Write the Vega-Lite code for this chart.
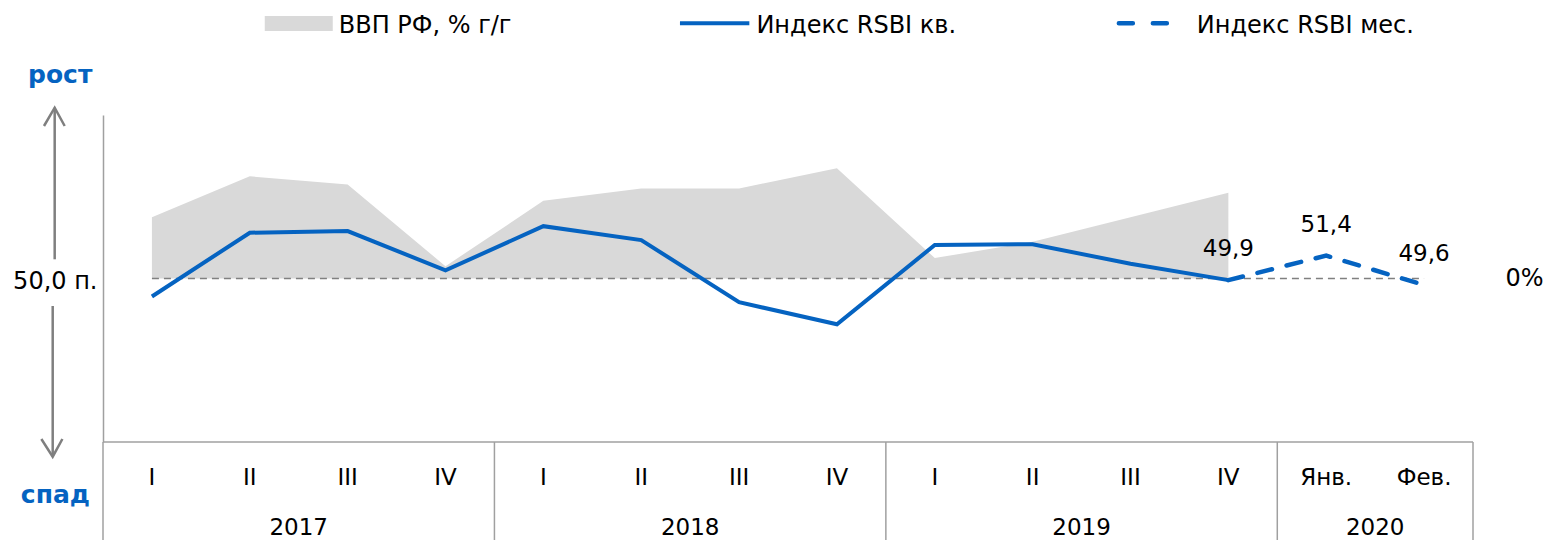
{
  "$schema": "https://vega.github.io/schema/vega-lite/v6.json",
  "width": 1370,
  "height": 327,
  "autosize": {"type": "none"},
  "padding": {"left": 103, "top": 115, "right": 75, "bottom": 98},
  "config": {"view": {"stroke": null}, "font": "DejaVu Sans"},
  "datasets": {
    "periods": [
      {"i": 0, "period": "I", "year": "2017", "rsbi": 48.9, "gdp": 1.5},
      {"i": 1, "period": "II", "year": "2017", "rsbi": 52.8, "gdp": 2.5},
      {"i": 2, "period": "III", "year": "2017", "rsbi": 52.9, "gdp": 2.3},
      {"i": 3, "period": "IV", "year": "2017", "rsbi": 50.5, "gdp": 0.3},
      {"i": 4, "period": "I", "year": "2018", "rsbi": 53.2, "gdp": 1.9},
      {"i": 5, "period": "II", "year": "2018", "rsbi": 52.35, "gdp": 2.2},
      {"i": 6, "period": "III", "year": "2018", "rsbi": 48.55, "gdp": 2.2},
      {"i": 7, "period": "IV", "year": "2018", "rsbi": 47.2, "gdp": 2.7},
      {"i": 8, "period": "I", "year": "2019", "rsbi": 52.05, "gdp": 0.5},
      {"i": 9, "period": "II", "year": "2019", "rsbi": 52.1, "gdp": 0.9},
      {"i": 10, "period": "III", "year": "2019", "rsbi": 50.9, "gdp": 1.5},
      {"i": 11, "period": "IV", "year": "2019", "rsbi": 49.9, "gdp": 2.1},
      {"i": 12, "period": "Янв.", "year": "2020", "rsbi": 51.4},
      {"i": 13, "period": "Фев.", "year": "2020", "rsbi": 49.6}
    ],
    "labels": [
      {"i": 11, "rsbi": 49.9, "lbl": "49,9"},
      {"i": 12, "rsbi": 51.4, "lbl": "51,4"},
      {"i": 13, "rsbi": 49.6, "lbl": "49,6"}
    ],
    "years": [
      {"pos": 1.5, "year": "2017"},
      {"pos": 5.5, "year": "2018"},
      {"pos": 9.5, "year": "2019"},
      {"pos": 12.5, "year": "2020"}
    ],
    "grid": [
      {"x1": -0.5, "x2": 13.5, "y1": 40, "y2": 40},
      {"x1": -0.5, "x2": -0.5, "y1": 40, "y2": 33.9},
      {"x1": 3.5, "x2": 3.5, "y1": 40, "y2": 33.9},
      {"x1": 7.5, "x2": 7.5, "y1": 40, "y2": 33.9},
      {"x1": 11.5, "x2": 11.5, "y1": 40, "y2": 33.9},
      {"x1": 13.5, "x2": 13.5, "y1": 40, "y2": 33.9}
    ],
    "baseline": [{"a": 0, "b": 13, "v": 50}],
    "arrows": [
      {"grp": "up_shaft", "ord": 1, "x": -0.9937, "y": 60.446},
      {"grp": "up_shaft", "ord": 2, "x": -0.9937, "y": 51.174},
      {"grp": "up_head", "ord": 1, "x": -1.103, "y": 59.327},
      {"grp": "up_head", "ord": 2, "x": -0.9937, "y": 60.446},
      {"grp": "up_head", "ord": 3, "x": -0.8915, "y": 59.327},
      {"grp": "dn_shaft", "ord": 1, "x": -1.014, "y": 48.318},
      {"grp": "dn_shaft", "ord": 2, "x": -1.014, "y": 39.101},
      {"grp": "dn_head", "ord": 1, "x": -1.13, "y": 40.183},
      {"grp": "dn_head", "ord": 2, "x": -1.014, "y": 39.101},
      {"grp": "dn_head", "ord": 3, "x": -0.915, "y": 40.183}
    ],
    "directions": [
      {"x": -0.937, "y": 61.96, "txt": "рост"},
      {"x": -0.9865, "y": 36.29, "txt": "спад"}
    ],
    "legendRect": [{"x1": 1.153, "x2": 1.848, "y1": 65.14, "y2": 66.06}],
    "legendLines": [
      {"kind": "solid", "x1": 5.396, "x2": 6.105, "y": 65.61},
      {"kind": "dashed", "x1": 9.881, "x2": 10.413, "y": 65.61}
    ],
    "legendText": [
      {"x": 1.909, "y": 64.985, "label": "ВВП РФ, % г/г"},
      {"x": 6.177, "y": 64.985, "label": "Индекс RSBI кв."},
      {"x": 10.678, "y": 64.985, "label": "Индекс RSBI мес."}
    ]
  },
  "layer": [
    {
      "data": {"name": "periods"},
      "transform": [{"filter": "isValid(datum.gdp)"}],
      "mark": {"type": "area", "color": "#D9D9D9", "opacity": 1},
      "encoding": {
        "x": {"field": "i", "type": "quantitative", "scale": {"domain": [-0.5, 13.5], "nice": false, "zero": false}, "axis": null},
        "y": {
          "field": "gdp", "type": "quantitative",
          "scale": {"domain": [-4, 4], "nice": false, "zero": false},
          "axis": {"orient": "right", "values": [0], "labelExpr": "'0%'", "ticks": false, "grid": false, "domain": false, "labelPadding": 32, "labelFontSize": 24, "labelFont": "DejaVu Sans", "labelColor": "#000000", "title": null}
        },
        "y2": {"datum": 0}
      }
    },
    {
      "data": {"name": "baseline"},
      "mark": {"type": "rule", "color": "#808080", "strokeDash": [7, 5], "strokeWidth": 1.5},
      "encoding": {
        "x": {"field": "a", "type": "quantitative", "scale": {"domain": [-0.5, 13.5], "nice": false, "zero": false}, "axis": null},
        "x2": {"field": "b"},
        "y": {
          "field": "v", "type": "quantitative",
          "scale": {"domain": [40, 60], "nice": false, "zero": false},
          "axis": {"orient": "left", "values": [50], "labelExpr": "'50,0 п.'", "ticks": false, "grid": false, "domain": true, "domainColor": "#A0A0A0", "domainWidth": 1.5, "labelPadding": 6, "labelOffset": 3, "labelFontSize": 24, "labelFont": "DejaVu Sans", "labelColor": "#000000", "title": null}
        }
      }
    },
    {
      "data": {"name": "periods"},
      "transform": [{"filter": "datum.i <= 11"}],
      "mark": {"type": "line", "color": "#0563C1", "strokeWidth": 4},
      "encoding": {
        "x": {"field": "i", "type": "quantitative", "scale": {"domain": [-0.5, 13.5], "nice": false, "zero": false}, "axis": null},
        "y": {"field": "rsbi", "type": "quantitative", "scale": {"domain": [40, 60], "nice": false, "zero": false}, "axis": null}
      }
    },
    {
      "data": {"name": "periods"},
      "transform": [{"filter": "datum.i >= 11"}],
      "mark": {"type": "line", "color": "#0563C1", "strokeWidth": 4.5, "strokeDash": [15, 15], "strokeCap": "round"},
      "encoding": {
        "x": {"field": "i", "type": "quantitative", "scale": {"domain": [-0.5, 13.5], "nice": false, "zero": false}, "axis": null},
        "y": {"field": "rsbi", "type": "quantitative", "scale": {"domain": [40, 60], "nice": false, "zero": false}, "axis": null}
      }
    },
    {
      "data": {"name": "labels"},
      "mark": {"type": "text", "fontSize": 23, "font": "DejaVu Sans", "color": "#000000", "align": "center", "baseline": "alphabetic", "dy": -24},
      "encoding": {
        "x": {"field": "i", "type": "quantitative", "scale": {"domain": [-0.5, 13.5], "nice": false, "zero": false}, "axis": null},
        "y": {"field": "rsbi", "type": "quantitative", "scale": {"domain": [40, 60], "nice": false, "zero": false}, "axis": null},
        "text": {"field": "lbl"}
      }
    },
    {
      "data": {"name": "grid"},
      "mark": {"type": "rule", "color": "#A0A0A0", "strokeWidth": 1.5},
      "encoding": {
        "x": {"field": "x1", "type": "quantitative", "scale": {"domain": [-0.5, 13.5], "nice": false, "zero": false}, "axis": null},
        "x2": {"field": "x2"},
        "y": {"field": "y1", "type": "quantitative", "scale": {"domain": [40, 60], "nice": false, "zero": false}, "axis": null},
        "y2": {"field": "y2"}
      }
    },
    {
      "data": {"name": "periods"},
      "mark": {"type": "text", "fontSize": 23, "font": "DejaVu Sans", "color": "#000000", "align": "center", "baseline": "alphabetic"},
      "encoding": {
        "x": {"field": "i", "type": "quantitative", "scale": {"domain": [-0.5, 13.5], "nice": false, "zero": false}, "axis": null},
        "y": {"datum": 37.37, "type": "quantitative", "scale": {"domain": [40, 60], "nice": false, "zero": false}, "axis": null},
        "text": {"field": "period"}
      }
    },
    {
      "data": {"name": "years"},
      "mark": {"type": "text", "fontSize": 23, "font": "DejaVu Sans", "color": "#000000", "align": "center", "baseline": "alphabetic"},
      "encoding": {
        "x": {"field": "pos", "type": "quantitative", "scale": {"domain": [-0.5, 13.5], "nice": false, "zero": false}, "axis": null},
        "y": {"datum": 34.31, "type": "quantitative", "scale": {"domain": [40, 60], "nice": false, "zero": false}, "axis": null},
        "text": {"field": "year"}
      }
    },
    {
      "data": {"name": "arrows"},
      "mark": {"type": "line", "color": "#7F7F7F", "strokeWidth": 2.5},
      "encoding": {
        "x": {"field": "x", "type": "quantitative", "scale": {"domain": [-0.5, 13.5], "nice": false, "zero": false}, "axis": null},
        "y": {"field": "y", "type": "quantitative", "scale": {"domain": [40, 60], "nice": false, "zero": false}, "axis": null},
        "detail": {"field": "grp"},
        "order": {"field": "ord"}
      }
    },
    {
      "data": {"name": "directions"},
      "mark": {"type": "text", "fontSize": 25, "font": "DejaVu Sans", "fontWeight": "bold", "color": "#0563C1", "align": "center", "baseline": "alphabetic"},
      "encoding": {
        "x": {"field": "x", "type": "quantitative", "scale": {"domain": [-0.5, 13.5], "nice": false, "zero": false}, "axis": null},
        "y": {"field": "y", "type": "quantitative", "scale": {"domain": [40, 60], "nice": false, "zero": false}, "axis": null},
        "text": {"field": "txt"}
      }
    },
    {
      "data": {"name": "legendRect"},
      "mark": {"type": "rect", "color": "#D9D9D9"},
      "encoding": {
        "x": {"field": "x1", "type": "quantitative", "scale": {"domain": [-0.5, 13.5], "nice": false, "zero": false}, "axis": null},
        "x2": {"field": "x2"},
        "y": {"field": "y1", "type": "quantitative", "scale": {"domain": [40, 60], "nice": false, "zero": false}, "axis": null},
        "y2": {"field": "y2"}
      }
    },
    {
      "data": {"name": "legendLines"},
      "transform": [{"filter": "datum.kind == 'solid'"}],
      "mark": {"type": "rule", "color": "#0563C1", "strokeWidth": 4},
      "encoding": {
        "x": {"field": "x1", "type": "quantitative", "scale": {"domain": [-0.5, 13.5], "nice": false, "zero": false}, "axis": null},
        "x2": {"field": "x2"},
        "y": {"field": "y", "type": "quantitative", "scale": {"domain": [40, 60], "nice": false, "zero": false}, "axis": null}
      }
    },
    {
      "data": {"name": "legendLines"},
      "transform": [{"filter": "datum.kind == 'dashed'"}],
      "mark": {"type": "rule", "color": "#0563C1", "strokeWidth": 4.5, "strokeDash": [14, 20], "strokeCap": "round"},
      "encoding": {
        "x": {"field": "x1", "type": "quantitative", "scale": {"domain": [-0.5, 13.5], "nice": false, "zero": false}, "axis": null},
        "x2": {"field": "x2"},
        "y": {"field": "y", "type": "quantitative", "scale": {"domain": [40, 60], "nice": false, "zero": false}, "axis": null}
      }
    },
    {
      "data": {"name": "legendText"},
      "mark": {"type": "text", "fontSize": 24, "font": "DejaVu Sans", "color": "#000000", "align": "left", "baseline": "alphabetic"},
      "encoding": {
        "x": {"field": "x", "type": "quantitative", "scale": {"domain": [-0.5, 13.5], "nice": false, "zero": false}, "axis": null},
        "y": {"field": "y", "type": "quantitative", "scale": {"domain": [40, 60], "nice": false, "zero": false}, "axis": null},
        "text": {"field": "label"}
      }
    }
  ],
  "resolve": {"scale": {"y": "independent"}}
}
